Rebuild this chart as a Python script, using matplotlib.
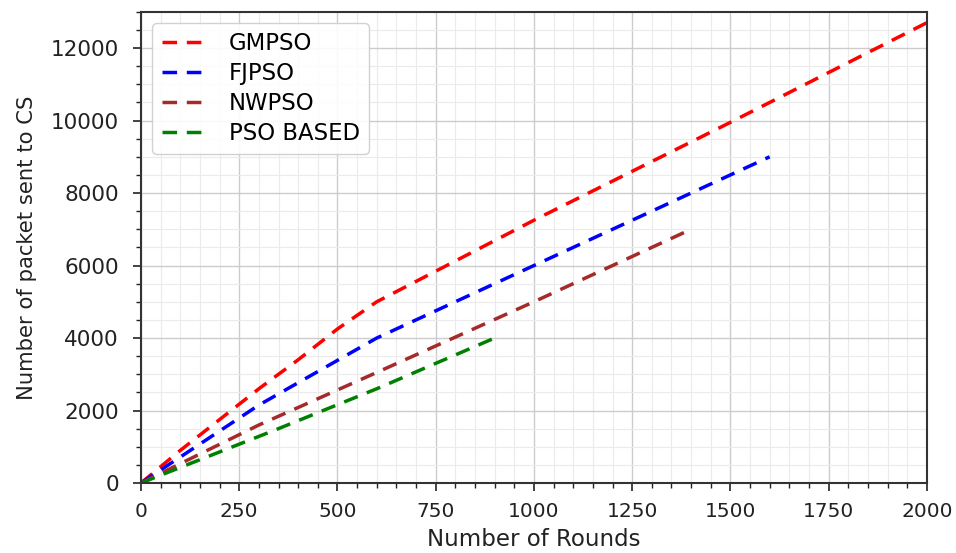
import matplotlib
matplotlib.use("Agg")
import matplotlib.pyplot as plt
from matplotlib.ticker import MultipleLocator

gm_x = [0, 100, 200, 300, 400, 500, 600, 1000, 1500, 2000]
gm_y = [0, 900, 1750, 2600, 3400, 4250, 5000, 7250, 9950, 12700]
fj_x = [0, 300, 600, 1000, 1600]
fj_y = [0, 2150, 4000, 6000, 9000]
nw_x = [0, 300, 600, 1000, 1400]
nw_y = [0, 1600, 3050, 5000, 7000]
pso_x = [0, 350, 600, 900]
pso_y = [0, 1500, 2600, 4000]

labels = ["GMPSO", "FJPSO", "NWPSO", "PSO BASED"]
colors = ["red", "blue", "brown", "green"]

fig = plt.figure(figsize=(9.56, 5.53), dpi=100)
ax = fig.add_axes([0.1475, 0.1266, 0.822, 0.852])

series = [(gm_x, gm_y), (fj_x, fj_y), (nw_x, nw_y), (pso_x, pso_y)]
for (xs, ys), lab, c in zip(series, labels, colors):
    ax.plot(xs, ys, linestyle=(0, (4.2, 2.8)), color=c, linewidth=2.5, label=lab)

ax.set_xlim(0, 2000)
ax.set_ylim(0, 13000)
ax.xaxis.set_major_locator(MultipleLocator(250))
ax.xaxis.set_minor_locator(MultipleLocator(50))
ax.yaxis.set_major_locator(MultipleLocator(2000))
ax.yaxis.set_minor_locator(MultipleLocator(500))
ax.grid(which="major", color="#cccccc", linewidth=1.0)
ax.grid(which="minor", color="#ebebeb", linewidth=0.8)
ax.set_axisbelow(True)
for s in ax.spines.values():
    s.set_linewidth(1.5)
    s.set_color("#333333")
ax.tick_params(which="major", length=6, width=1.2, colors="#222222")
ax.tick_params(which="minor", length=3.5, width=1.0, colors="#222222")
ax.tick_params(axis="y", which="major", labelsize=15.5, pad=10)
ax.tick_params(axis="x", which="major", labelsize=14.5, pad=8)

ax.set_xlabel("Number of Rounds", fontsize=16.5, color="#222222", labelpad=5)
ax.set_ylabel("Number of packet sent to CS", fontsize=15.2, color="#222222", labelpad=10)

leg = ax.legend(loc="upper left", fontsize=16.4, handlelength=1.9, handletextpad=1.05,
                borderpad=0.4, labelspacing=0.3, framealpha=0.9, edgecolor="#cccccc")

fig.savefig("out.png", dpi=100)
